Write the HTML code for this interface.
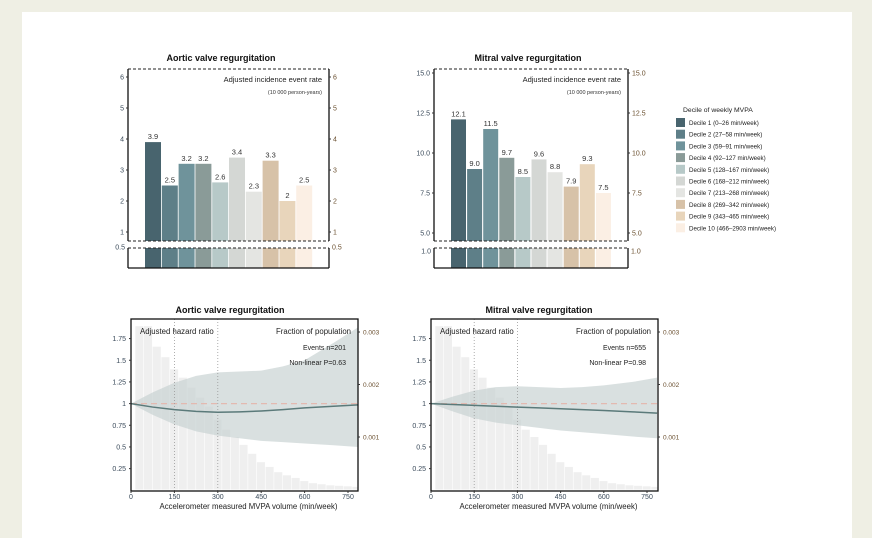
<!DOCTYPE html>
<html><head><meta charset="utf-8"><style>
body{margin:0;background:#efefe4;}
svg{display:block;font-family:"Liberation Sans",Arial,sans-serif;}
</style></head><body>
<svg id="s" width="872" height="538" viewBox="0 0 872 538" xmlns="http://www.w3.org/2000/svg">
<rect x="0" y="0" width="872" height="538" fill="#efefe4"/>
<rect x="22" y="12" width="830" height="526" fill="#ffffff"/>
</svg>
<script>
const colors=['#48646e','#5e7f88','#6f939b','#8a9b98','#b7c9c8','#d4d7d4','#e4e5e2','#d7c2a8','#e8d5bb','#fbefe4'];
const decileLabels=['Decile 1 (0–26 min/week)','Decile 2 (27–58 min/week)','Decile 3 (59–91 min/week)','Decile 4 (92–127 min/week)','Decile 5 (128–167 min/week)','Decile 6 (168–212 min/week)','Decile 7 (213–268 min/week)','Decile 8 (269–342 min/week)','Decile 9 (343–465 min/week)','Decile 10 (466–2903 min/week)'];
const aorticRates=[3.9,2.5,3.2,3.2,2.6,3.4,2.3,3.3,2,2.5];
const aorticRateLabels=['3.9','2.5','3.2','3.2','2.6','3.4','2.3','3.3','2','2.5'];
const mitralRates=[12.1,9.0,11.5,9.7,8.5,9.6,8.8,7.9,9.3,7.5];
const mitralRateLabels=['12.1','9.0','11.5','9.7','8.5','9.6','8.8','7.9','9.3','7.5'];
const aorticTicks=[1,2,3,4,5,6];
const mitralTicks=[5,7.5,10,12.5,15];
const mitralTickLabels=['5.0','7.5','10.0','12.5','15.0'];
const histStart=[15,45,75,105,135,165,195,225,255,285,315,345,375,405,435,465,495,525,555,585,615,645,675,705,735,765];
const histFrac=[0.00311,0.00311,0.00272,0.00252,0.00229,0.00213,0.00194,0.00175,0.00158,0.00133,0.00114,0.00100,0.00085,0.00068,0.00052,0.00043,0.00033,0.00027,0.00022,0.00016,0.00012,0.00010,0.00008,0.00007,0.00006,0.00005];
const mvpaX=[0,75,150,225,300,375,450,525,600,700,785];
const aorticHR=[1,0.96,0.93,0.91,0.9,0.905,0.915,0.93,0.95,0.97,0.985];
const aorticUpper=[1,1.13,1.24,1.32,1.36,1.37,1.38,1.43,1.5,1.7,1.88];
const aorticLower=[1,0.87,0.76,0.68,0.63,0.6,0.57,0.555,0.54,0.52,0.5];
const mitralHR=[1,0.99,0.98,0.97,0.96,0.95,0.94,0.93,0.92,0.905,0.89];
const mitralUpper=[1,1.08,1.15,1.19,1.2,1.19,1.18,1.19,1.21,1.25,1.3];
const mitralLower=[1,0.91,0.83,0.78,0.75,0.72,0.69,0.67,0.65,0.62,0.6];
const hrTicks=[0.25,0.5,0.75,1,1.25,1.5,1.75];
const hrTickLabels=['0.25','0.5','0.75','1','1.25','1.5','1.75'];
const xTicks=[0,150,300,450,600,750];
const fracTicks=[0.001,0.002,0.003];

const NS='http://www.w3.org/2000/svg';
const svg=document.getElementById('s');
function el(tag,attrs,parent,text){const e=document.createElementNS(NS,tag);for(const k in attrs)e.setAttribute(k,attrs[k]);if(text!==undefined)e.textContent=text;(parent||svg).appendChild(e);return e;}

function barChart(o){
  const g=el('g',{});
  
  
  const y=v=>o.y0-(v-o.vmin)*o.k;
  const t=el('text',{x:o.tx,y:61,'text-anchor':'middle','font-size':9,'font-weight':'bold',fill:'#111'},g,o.title);
  
  
  for(let i=0;i<o.data.length;i++){
    const bx=o.bx0+i*o.step;
    const r=el('rect',{x:bx,y:y(o.data[i]),width:o.bw,height:241-y(o.data[i]),fill:colors[i]},g);
    
    
    const r2=el('rect',{x:bx,y:248,width:o.bw,height:20,fill:colors[i]},g);
    
    
    const lt=el('text',{x:bx+o.bw/2,y:y(o.data[i])-3,'text-anchor':'middle','font-size':7.5,fill:'#333'},g,o.labels[i]);
    
    
  }
  el('line',{x1:o.x0,y1:69,x2:o.x1,y2:69,stroke:'#222','stroke-dasharray':'3,2','stroke-width':1},g);
  el('line',{x1:o.x0,y1:241,x2:o.x1,y2:241,stroke:'#222','stroke-dasharray':'3,2','stroke-width':1},g);
  el('line',{x1:o.x0,y1:248,x2:o.x1,y2:248,stroke:'#222','stroke-dasharray':'3,2','stroke-width':1},g);
  el('line',{x1:o.x0,y1:268,x2:o.x1,y2:268,stroke:'#111','stroke-width':1.3},g);
  el('line',{x1:o.x0,y1:69,x2:o.x0,y2:241,stroke:'#111','stroke-width':1.3},g);
  el('line',{x1:o.x1,y1:69,x2:o.x1,y2:241,stroke:'#111','stroke-width':1.3},g);
  el('line',{x1:o.x0,y1:248,x2:o.x0,y2:268,stroke:'#111','stroke-width':1.3},g);
  el('line',{x1:o.x1,y1:248,x2:o.x1,y2:268,stroke:'#111','stroke-width':1.3},g);
  for(let i=0;i<o.ticks.length;i++){
    const ty=y(o.ticks[i]);
    el('text',{x:o.x0-4,y:ty+2.5,'text-anchor':'end','font-size':7,fill:'#3a4a5a'},g,o.tickLabels[i]);
    el('text',{x:o.x1+4,y:ty+2.5,'font-size':7,fill:'#6b5030'},g,o.tickLabels[i]);
    el('line',{x1:o.x0-2,y1:ty,x2:o.x0,y2:ty,stroke:'#333'},g);
    el('line',{x1:o.x1,y1:ty,x2:o.x1+2,y2:ty,stroke:'#333'},g);
  }
  el('text',{x:o.x0-3,y:o.baseY+2.5,'text-anchor':'end','font-size':7,fill:'#3a4a5a'},g,o.baseLabel);
  el('text',{x:o.x1+3,y:o.baseY+2.5,'font-size':7,fill:'#6b5030'},g,o.baseLabel);
  el('text',{x:o.x1-7,y:82,'text-anchor':'end','font-size':7.5,fill:'#222'},g,'Adjusted incidence event rate');
  el('text',{x:o.x1-7,y:94,'text-anchor':'end','font-size':5.5,fill:'#333'},g,'(10 000 person-years)');
}
barChart({name:'aortic-incidence-chart',title:'Aortic valve regurgitation',tx:221,x0:128,x1:329,y0:232,vmin:1,k:31,bx0:145,bw:16,step:16.8,data:aorticRates,labels:aorticRateLabels,ticks:aorticTicks,tickLabels:aorticTicks.map(String),baseY:247,baseLabel:'0.5'});
barChart({name:'mitral-incidence-chart',title:'Mitral valve regurgitation',tx:528,x0:434,x1:628,y0:233,vmin:5,k:16,bx0:451,bw:15,step:16.1,data:mitralRates,labels:mitralRateLabels,ticks:mitralTicks,tickLabels:mitralTickLabels,baseY:251,baseLabel:'1.0'});

// legend
const lg=el('g',{});


el('text',{x:683,y:112,'font-size':6.8,fill:'#222'},lg,'Decile of weekly MVPA');
for(let i=0;i<10;i++){
  const ly=118+i*11.7;
  const e=el('g',{},lg);
  
  
  el('rect',{x:676,y:ly,width:9,height:9,fill:colors[i]},e);
  el('text',{x:689,y:ly+7,'font-size':6.2,fill:'#222'},e,decileLabels[i]);
}

function hrChart(o){
  const g=el('g',{});
  
  
  const X=v=>o.ox+v*o.kx, Y=v=>490.3-v*86.7, F=v=>489.5-v*52500;
  const cid='clip'+o.ox;
  const cp=el('clipPath',{id:cid},g);el('rect',{x:o.ox,y:319,width:o.x1-o.ox,height:172},cp);
  const inner=el('g',{'clip-path':'url(#'+cid+')'},g);
  for(let i=0;i<histStart.length;i++){
    const r=el('rect',{x:X(histStart[i]),y:F(histFrac[i]),width:30*o.kx-0.6,height:489.5-F(histFrac[i]),fill:'#efefef'},inner);
    
    
  }
  let d='M'+mvpaX.map((v,i)=>X(v)+','+Y(o.up[i])).join('L');
  for(let i=mvpaX.length-1;i>=0;i--)d+='L'+X(mvpaX[i])+','+Y(o.lo[i]);
  const band=el('path',{d:d+'Z',fill:'#c9d3d3','fill-opacity':0.7},inner);
  
  
  el('line',{x1:X(0),y1:Y(1),x2:o.x1,y2:Y(1),stroke:'#e3b9b0','stroke-dasharray':'6,4','stroke-width':1.2},inner);
  [150,300].forEach(v=>el('line',{x1:X(v),y1:319,x2:X(v),y2:491,stroke:'#999','stroke-dasharray':'1,2','stroke-width':0.8},inner));
  const ln=el('path',{d:'M'+mvpaX.map((v,i)=>X(v)+','+Y(o.hr[i])).join('L'),fill:'none',stroke:'#5b7a7a','stroke-width':1.5},inner);
  
  
  el('rect',{x:o.ox,y:319,width:o.x1-o.ox,height:172,fill:'none',stroke:'#111','stroke-width':1.3},g);
  el('text',{x:o.tx,y:313,'text-anchor':'middle','font-size':9,'font-weight':'bold',fill:'#111'},g,o.title);
  for(let i=0;i<hrTicks.length;i++){
    el('text',{x:o.ox-5,y:Y(hrTicks[i])+2.5,'text-anchor':'end','font-size':7,fill:'#3a4a5a'},g,hrTickLabels[i]);
    el('line',{x1:o.ox-2,y1:Y(hrTicks[i]),x2:o.ox,y2:Y(hrTicks[i]),stroke:'#333'},g);
  }
  for(const t of xTicks){
    el('text',{x:X(t),y:499,'text-anchor':'middle','font-size':7,fill:'#3a4a5a'},g,String(t));
    el('line',{x1:X(t),y1:491,x2:X(t),y2:493,stroke:'#333'},g);
  }
  for(const t of fracTicks){
    el('text',{x:o.x1+5,y:F(t)+2.5,'font-size':6.5,fill:'#6b5030'},g,String(t));
    el('line',{x1:o.x1,y1:F(t),x2:o.x1+2,y2:F(t),stroke:'#333'},g);
  }
  el('text',{x:(o.ox+o.x1)/2+4,y:509,'text-anchor':'middle','font-size':7.8,fill:'#222'},g,'Accelerometer measured MVPA volume (min/week)');
  el('text',{x:o.ox+9,y:334,'font-size':7.8,fill:'#222'},g,'Adjusted hazard ratio');
  el('text',{x:o.x1-7,y:334,'text-anchor':'end','font-size':7.8,fill:'#222'},g,'Fraction of population');
  el('text',{x:o.x1-12,y:350,'text-anchor':'end','font-size':7,fill:'#222'},g,o.events);
  el('text',{x:o.x1-12,y:365,'text-anchor':'end','font-size':7,fill:'#222'},g,o.pval);
}
hrChart({name:'aortic-hazard-chart',title:'Aortic valve regurgitation',tx:230,ox:131,x1:358,kx:217/750,hr:aorticHR,up:aorticUpper,lo:aorticLower,events:'Events n=201',pval:'Non-linear P=0.63'});
hrChart({name:'mitral-hazard-chart',title:'Mitral valve regurgitation',tx:539,ox:431,x1:658,kx:216/750,hr:mitralHR,up:mitralUpper,lo:mitralLower,events:'Events n=655',pval:'Non-linear P=0.98'});
</script>
</body></html>
